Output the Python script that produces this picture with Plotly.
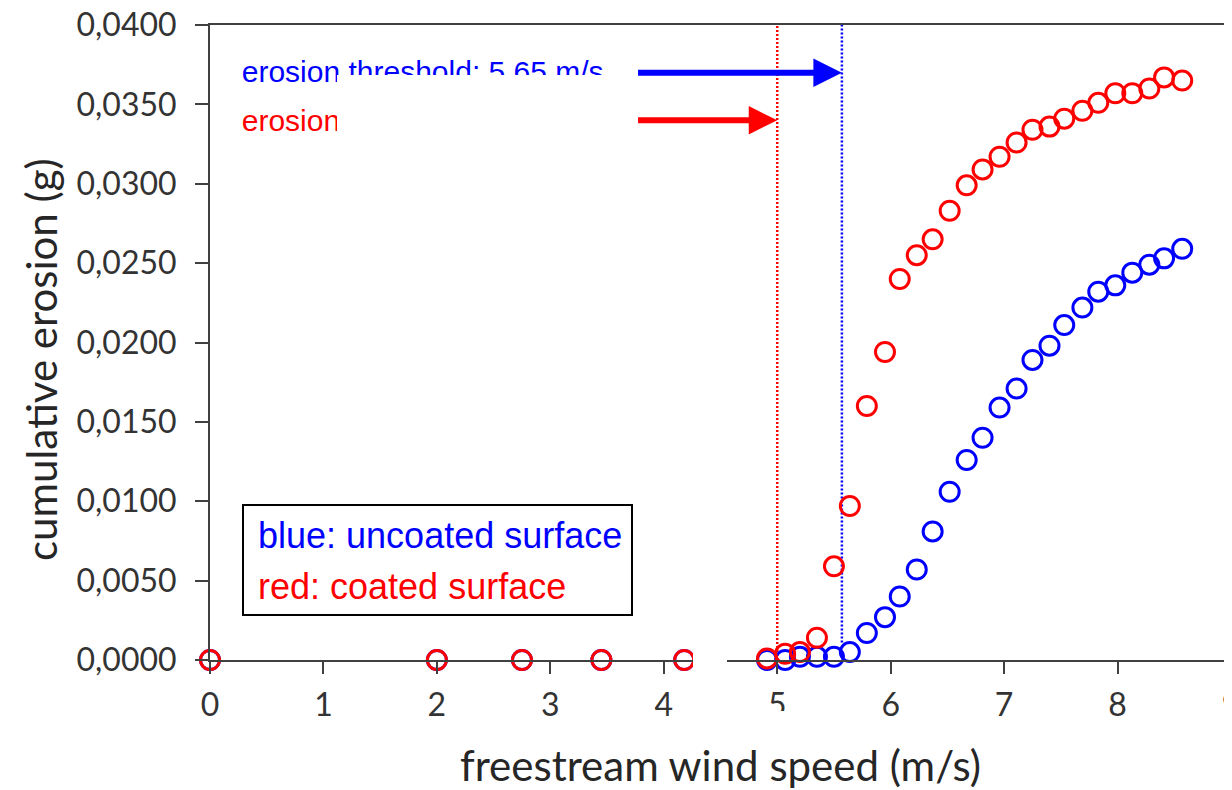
import plotly.graph_objects as go

# ---------------- data ----------------
wind_speed = [0.0, 2.0, 2.75, 3.45, 4.18, 4.91, 5.07, 5.20, 5.35, 5.50, 5.64, 5.79, 5.95,
              6.08, 6.23, 6.37, 6.52, 6.67, 6.81, 6.96, 7.11, 7.25, 7.40, 7.53, 7.69,
              7.83, 7.98, 8.13, 8.28, 8.41, 8.57]
erosion_uncoated = [0.0, 0.0, 0.0, 0.0, 0.0, 0.0, 0.0, 0.0002, 0.0002, 0.0002, 0.0005, 0.0017,
                    0.0027, 0.0040, 0.0057, 0.0081, 0.0106, 0.0126, 0.0140, 0.0159, 0.0171,
                    0.0189, 0.0198, 0.0211, 0.0222, 0.0232, 0.0236, 0.0244, 0.0249, 0.0253,
                    0.0259]
erosion_coated = [0.0, 0.0, 0.0, 0.0, 0.0, 0.0001, 0.0004, 0.0005, 0.0014, 0.0059, 0.0097,
                  0.0160, 0.0194, 0.0240, 0.0255, 0.0265, 0.0283, 0.0299, 0.0309, 0.0317,
                  0.0326, 0.0334, 0.0336, 0.0341, 0.0346, 0.0351, 0.0357, 0.0357, 0.0360,
                  0.0367, 0.0365]

threshold_coated = 5.0
threshold_uncoated = 5.57
label_uncoated = "erosion threshold: 5.65 m/s"
label_coated = "erosion threshold: 5.00 m/s"
legend_lines = ["blue: uncoated surface", "red: coated surface"]
x_title = "freestream wind speed (m/s)"
y_title = "cumulative erosion (g)"

x_ticks = [0, 1, 2, 3, 4, 5, 6, 7, 8, 9]
y_ticks = [0.0, 0.005, 0.010, 0.015, 0.020, 0.025, 0.030, 0.035, 0.040]

BLUE = "#0000FF"
RED = "#FF0000"

# ---------------- layout geometry (pixels) ----------------
OFF = 8                      # default page body margin
FW, FH = 1232 - OFF, 790 - OFF
L, T = 210 - OFF, 25 - OFF
PW = 1232 - 210 - 1
R = FW - L - PW
B = FH - T - (660 - 25)
PH = FH - T - B


def px(p):  # page pixel x -> paper x
    return (p - OFF - L) / PW


def py(p):  # page pixel y -> paper y
    return (OFF + T + PH - p) / PH


fig = go.Figure()

# threshold labels (text traces so the white masks can sit on top)
fig.add_trace(go.Scatter(x=[0.28], y=[0.0369], mode="text", text=[label_uncoated],
                         textposition="middle right",
                         textfont=dict(family="Liberation Sans, Arial", size=30, color=BLUE),
                         showlegend=False, hoverinfo="skip", cliponaxis=False))
fig.add_trace(go.Scatter(x=[0.28], y=[0.0338], mode="text", text=[label_coated],
                         textposition="middle right",
                         textfont=dict(family="Liberation Sans, Arial", size=30, color=RED),
                         showlegend=False, hoverinfo="skip", cliponaxis=False))

fig.add_trace(go.Scatter(x=wind_speed, y=erosion_uncoated, mode="markers",
                         name="uncoated surface",
                         marker=dict(symbol="circle-open", size=19, color=BLUE,
                                     line=dict(width=3, color=BLUE)),
                         cliponaxis=False, showlegend=False))
fig.add_trace(go.Scatter(x=wind_speed, y=erosion_coated, mode="markers",
                         name="coated surface",
                         marker=dict(symbol="circle-open", size=19, color=RED,
                                     line=dict(width=3, color=RED)),
                         cliponaxis=False, showlegend=False))

shapes = [
    # threshold lines
    dict(type="line", xref="x", yref="y", x0=threshold_coated, x1=threshold_coated,
         y0=0, y1=0.04, line=dict(color=RED, width=2.5, dash="2px,2px"), layer="below"),
    dict(type="line", xref="x", yref="y", x0=threshold_uncoated, x1=threshold_uncoated,
         y0=0.0011, y1=0.04, line=dict(color=BLUE, width=2.5, dash="2px,2px"), layer="below"),
    # white masks seen in the original figure
    dict(type="rect", xref="paper", yref="paper", x0=px(337), x1=px(634), y0=py(145), y1=py(75),
         fillcolor="white", line=dict(width=0), layer="above"),
    dict(type="rect", xref="paper", yref="paper", x0=px(693), x1=px(727), y0=py(680), y1=py(640),
         fillcolor="white", line=dict(width=0), layer="above"),
    dict(type="rect", xref="paper", yref="paper", x0=px(762), x1=px(795), y0=py(740), y1=py(711),
         fillcolor="white", line=dict(width=0), layer="above"),
    # legend box
    dict(type="rect", xref="paper", yref="paper", x0=px(243), x1=px(632), y0=py(615), y1=py(505),
         fillcolor="white", line=dict(color="black", width=2), layer="above"),
]

title_font = dict(family="Lato, Open Sans, sans-serif", size=42, color="#262626")

annotations = [
    dict(x=threshold_uncoated, y=0.0370, ax=3.76, ay=0.0370, xref="x", yref="y",
         axref="x", ayref="y", text="", showarrow=True, arrowhead=2, arrowwidth=6,
         arrowsize=0.95, arrowcolor=BLUE, standoff=0),
    dict(x=threshold_coated, y=0.0340, ax=3.76, ay=0.0340, xref="x", yref="y",
         axref="x", ayref="y", text="", showarrow=True, arrowhead=2, arrowwidth=6,
         arrowsize=0.95, arrowcolor=RED, standoff=0),
    dict(x=px(256), y=py(535), xref="paper", yref="paper", text=legend_lines[0],
         showarrow=False, xanchor="left", yanchor="middle",
         font=dict(family="Liberation Sans, Arial", size=36, color=BLUE)),
    dict(x=px(256), y=py(586), xref="paper", yref="paper", text=legend_lines[1],
         showarrow=False, xanchor="left", yanchor="middle",
         font=dict(family="Liberation Sans, Arial", size=36, color=RED)),
    # y-axis title
    dict(x=px(41), y=py(360), xref="paper", yref="paper", text=y_title, textangle=-90,
         showarrow=False, xanchor="center", yanchor="middle", font=title_font),
]

axis_font = dict(family="Lato, Open Sans, sans-serif", size=32, color="#333333")

fig.update_layout(
    width=FW, height=FH,
    margin=dict(l=L, r=R, t=T, b=B, autoexpand=False),
    paper_bgcolor="white", plot_bgcolor="white",
    separators=", ",
    shapes=shapes, annotations=annotations,
    showlegend=False,
    xaxis=dict(range=[0, 9], tickvals=x_ticks, ticks="outside", ticklen=12, tickwidth=2,
               tickcolor="#404040", showline=True, linecolor="#404040", linewidth=2,
               mirror=True, showgrid=False, zeroline=False, tickfont=axis_font,
               ticklabelstandoff=4, ticklabeloverflow="allow", automargin=False,
               title=dict(text=x_title, font=title_font, standoff=30)),
    yaxis=dict(range=[0, 0.04], tickvals=y_ticks, tickformat=".4f", ticks="outside",
               ticklen=13, tickwidth=2, tickcolor="#404040", showline=True,
               linecolor="#404040", linewidth=2, mirror=True, showgrid=False,
               zeroline=False, tickfont=axis_font, ticklabelstandoff=12,
               ticklabeloverflow="allow", automargin=False),
)

fig.write_html("out.html")
